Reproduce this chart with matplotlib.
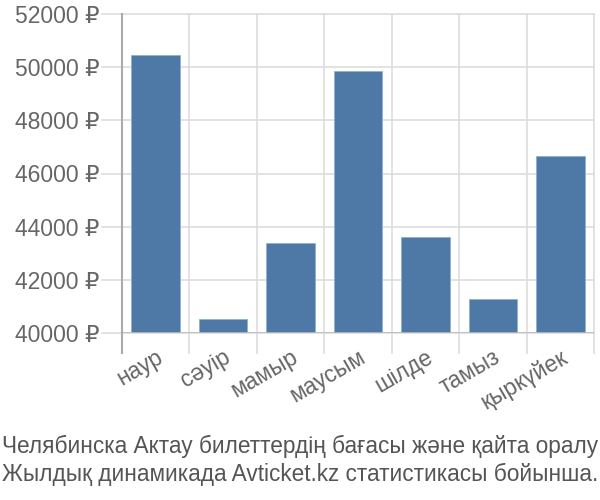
import matplotlib
matplotlib.use("Agg")
import matplotlib.pyplot as plt
import numpy as np

plt.rcParams['font.family'] = ['Liberation Sans', 'DejaVu Sans']

months = ["наур", "сәуір", "мамыр", "маусым", "шілде", "тамыз", "қыркүйек"]
prices = [50450, 40530, 43390, 49860, 43630, 41270, 46670]
yticks = [40000, 42000, 44000, 46000, 48000, 50000, 52000]
title_lines = ["Челябинска Актау билеттердің бағасы және қайта оралу",
               "Жылдық динамикада Avticket.kz статистикасы бойынша."]

fig = plt.figure(figsize=(6, 5), dpi=100)
ax = fig.add_axes([122/600, 1-333/500, (594-122)/600, (333-14)/500])

x = np.arange(len(months))
ax.bar(x, np.array(prices) - 40000, bottom=40000, width=0.72, color="#4e78a5",
       edgecolor="#8fb0d4", linewidth=0.6, zorder=3)

ax.set_xlim(-0.5, len(months) - 0.5)
ax.set_ylim(40000, 52000)
ax.set_yticks(yticks)
ax.set_yticklabels([f"{v} ₽" for v in yticks])
ax.set_xticks(x)
ax.set_xticklabels(months, rotation=30, ha="right", rotation_mode="anchor")

# grid
for b in np.arange(-0.5, len(months), 1.0):
    ax.axvline(b, color="#dddddd", lw=1.2, zorder=0, ymin=-20/319, ymax=1, clip_on=False)
for v in yticks:
    ax.axhline(v, color="#dddddd", lw=1.2, zorder=0, xmin=-20/472, xmax=1, clip_on=False)
ax.axhline(40000, color="#bbbbbb", lw=1.2, zorder=4, xmin=0, xmax=1)
ax.axvline(-0.5, color="#aaaaaa", lw=1.5, zorder=4, ymin=-20/319, ymax=1, clip_on=False)

for s in ax.spines.values():
    s.set_visible(False)
ax.tick_params(axis="both", length=0, colors="#666666", labelsize=16.5)
ax.tick_params(axis="y", pad=16)
ax.tick_params(axis="x", pad=9)

fig.text(2/600, 1-446/500, title_lines[0], fontsize=16.3, color="#555555", va="center", ha="left")
fig.text(2/600, 1-474/500, title_lines[1], fontsize=16.3, color="#555555", va="center", ha="left")

fig.savefig("out.png", dpi=100)
